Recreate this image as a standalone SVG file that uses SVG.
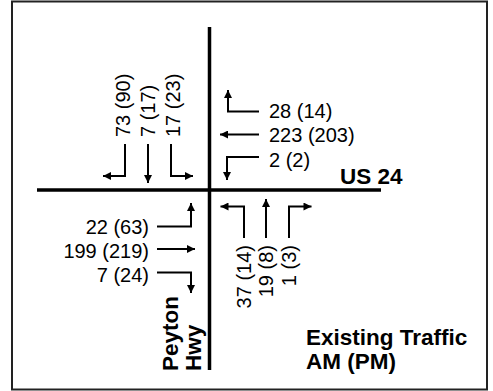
<svg xmlns="http://www.w3.org/2000/svg" width="493" height="391" viewBox="0 0 493 391">
<style>
.n{font-family:"Liberation Sans",Arial,sans-serif;font-size:20px;fill:#000}
.b{font-family:"Liberation Sans",Arial,sans-serif;font-size:22.5px;font-weight:bold;fill:#000}
.a{fill:none;stroke:#000;stroke-width:2;marker-end:url(#ah)}
.road{stroke:#000;stroke-width:3.5;fill:none}
</style>
<defs>
<marker id="ah" viewBox="0 0 10 10" refX="10" refY="5" markerUnits="userSpaceOnUse" markerWidth="10" markerHeight="8" orient="auto">
<path d="M0,0 L10,5 L0,10 z" fill="#000"/>
</marker>
</defs>
<rect x="12" y="1.5" width="475" height="388" fill="#fff" stroke="#222" stroke-width="2"/>
<g id="roads">
<line class="road" x1="209.5" y1="27" x2="209.5" y2="370"/>
<line class="road" x1="37" y1="190" x2="381" y2="190"/>
</g>
<g id="connectors">
<path class="a" d="M125,144 V176 H103"/>
<path class="a" d="M148,144 V183"/>
<path class="a" d="M171,144 V176 H193"/>
<path class="a" d="M259,111.5 H228 V90"/>
<path class="a" d="M259,134.5 H220"/>
<path class="a" d="M259,157 H227 V180"/>
<path class="a" d="M157,226.5 H191 V203"/>
<path class="a" d="M157,249 H195"/>
<path class="a" d="M157,272.5 H191 V293"/>
<path class="a" d="M244,238 V206.5 H220.5"/>
<path class="a" d="M266,238 V199"/>
<path class="a" d="M289,238 V206.5 H311.5"/>
</g>
<g id="sb-labels">
<text class="n" transform="translate(130,137) rotate(-90)">73 (90)</text>
<text class="n" transform="translate(155,137) rotate(-90)">7 (17)</text>
<text class="n" transform="translate(180,137) rotate(-90)">17 (23)</text>
</g>
<g id="wb-labels">
<text class="n" x="269" y="117.5">28 (14)</text>
<text class="n" x="269" y="142">223 (203)</text>
<text class="n" x="269" y="166.5">2 (2)</text>
</g>
<g id="eb-labels">
<text class="n" x="149" y="234" text-anchor="end">22 (63)</text>
<text class="n" x="149" y="258" text-anchor="end">199 (219)</text>
<text class="n" x="149" y="281.5" text-anchor="end">7 (24)</text>
</g>
<g id="nb-labels">
<text class="n" text-anchor="end" transform="translate(251,245) rotate(-90)">37 (14)</text>
<text class="n" text-anchor="end" transform="translate(273,245) rotate(-90)">19 (8)</text>
<text class="n" text-anchor="end" transform="translate(296,245) rotate(-90)">1 (3)</text>
</g>
<g id="us24">
<text class="b" x="340" y="184">US 24</text>
</g>
<g id="peyton">
<text class="b" transform="translate(178,371) rotate(-90)">Peyton</text>
<text class="b" transform="translate(201,371) rotate(-90)">Hwy</text>
</g>
<g id="title">
<text class="b" x="306" y="345">Existing Traffic</text>
<text class="b" x="306" y="369">AM (PM)</text>
</g>
</svg>
